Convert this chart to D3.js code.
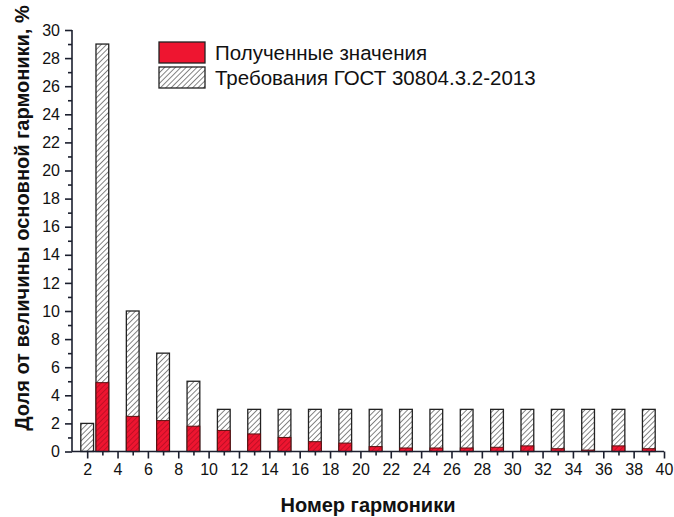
<!DOCTYPE html>
<html>
<head>
<meta charset="utf-8">
<script src="https://cdn.jsdelivr.net/npm/d3@7"></script>
<style>
  html, body { margin: 0; padding: 0; background: #fff; }
  svg { display: block; font-family: "Liberation Sans", Arial, sans-serif; }
</style>
</head>
<body>
<svg id="chart" width="674" height="517"></svg>
<script>
// Harmonic numbers shown as bars
const harmonics = [2, 3, 5, 7, 9, 11, 13, 15, 17, 19, 21, 23, 25, 27, 29, 31, 33, 35, 37, 39];
// Limits per GOST 30804.3.2-2013, % of fundamental
const gostLimits = [2, 29, 10, 7, 5, 3, 3, 3, 3, 3, 3, 3, 3, 3, 3, 3, 3, 3, 3, 3];
// Measured harmonic content, % of fundamental
const measured = [0, 4.9, 2.5, 2.2, 1.8, 1.5, 1.25, 1.0, 0.7, 0.6, 0.35, 0.25, 0.25, 0.25, 0.3, 0.4, 0.2, 0.1, 0.4, 0.2];
// Axis ticks
const xMajorTicks = d3.range(2, 41, 2);
const xMinorTicks = d3.range(3, 40, 2);
const yMajorTicks = d3.range(0, 31, 2);
const yMinorTicks = d3.range(1, 30, 2);
const legendLabels = ["Полученные значения", "Требования ГОСТ 30804.3.2-2013"];
const xTitle = "Номер гармоники";
const yTitle = "Доля от величины основной гармоники, %";

const svg = d3.select("#chart");
const plot = { left: 72, right: 664, top: 30, bottom: 451.5 };

const x = d3.scaleLinear().domain([1, 40]).range([plot.left, plot.right]);
const y = d3.scaleLinear().domain([0, 30]).range([plot.bottom, plot.top]);
const halfBar = 0.42;

// Hatch patterns
const defs = svg.append("defs");
function hatch(id, bg, line) {
  const p = defs.append("pattern")
    .attr("id", id)
    .attr("patternUnits", "userSpaceOnUse")
    .attr("width", 3.8).attr("height", 3.8)
    .attr("patternTransform", "rotate(45)");
  p.append("rect").attr("width", 3.8).attr("height", 3.8).attr("fill", bg);
  p.append("line").attr("x1", 0).attr("y1", 0).attr("x2", 0).attr("y2", 3.8)
    .attr("stroke", line).attr("stroke-width", 1.2);
}
hatch("hatchGray", "#fff", "#333");
hatch("hatchRed", "#ee1530", "#a30a1e");

const rows = harmonics.map((h, i) => ({ h, limit: gostLimits[i], value: measured[i] }));

// Limit bars
svg.append("g").selectAll("rect").data(rows).join("rect")
  .attr("x", d => x(d.h - halfBar))
  .attr("width", d => x(d.h + halfBar) - x(d.h - halfBar))
  .attr("y", d => y(d.limit))
  .attr("height", d => y(0) - y(d.limit))
  .attr("fill", "url(#hatchGray)")
  .attr("stroke", "#222").attr("stroke-width", 1.3);

// Measured bars
svg.append("g").selectAll("rect").data(rows.filter(d => d.value > 0)).join("rect")
  .attr("x", d => x(d.h - halfBar))
  .attr("width", d => x(d.h + halfBar) - x(d.h - halfBar))
  .attr("y", d => y(d.value))
  .attr("height", d => y(0) - y(d.value))
  .attr("fill", "url(#hatchRed)")
  .attr("stroke", "#5a1010").attr("stroke-width", 1);

// Y axis
const yAxis = svg.append("g").attr("transform", `translate(${plot.left},0)`)
  .call(d3.axisLeft(y).tickValues(yMajorTicks).tickSize(7).tickPadding(5).tickFormat(d3.format("d")));
svg.append("g").attr("transform", `translate(${plot.left},0)`)
  .call(d3.axisLeft(y).tickValues(yMinorTicks).tickSize(4).tickFormat(""))
  .select(".domain").remove();

// X axis
const xAxis = svg.append("g").attr("transform", `translate(0,${plot.bottom})`)
  .call(d3.axisBottom(x).tickValues(xMajorTicks).tickSize(7).tickPadding(5).tickFormat(d3.format("d")));
svg.append("g").attr("transform", `translate(0,${plot.bottom})`)
  .call(d3.axisBottom(x).tickValues(xMinorTicks).tickSize(4).tickFormat(""))
  .select(".domain").remove();

yAxis.select(".domain").attr("d", `M0,${plot.top}V${plot.bottom}`);
xAxis.select(".domain").attr("d", `M${plot.left},0H${plot.right}`);
svg.selectAll(".domain, .tick line").attr("stroke", "#1b1f2e").attr("stroke-width", 1.6);
svg.selectAll(".tick text").attr("font-size", 16).attr("fill", "#111")
  .attr("font-family", "'Liberation Sans', Arial, sans-serif");

// Axis titles
svg.append("text")
  .attr("x", (plot.left + plot.right) / 2).attr("y", 512)
  .attr("text-anchor", "middle")
  .attr("font-size", 20).attr("font-weight", "bold").attr("fill", "#111")
  .text(xTitle);
svg.append("text")
  .attr("transform", `translate(29,218) rotate(-90)`)
  .attr("text-anchor", "middle")
  .attr("font-size", 20).attr("font-weight", "bold").attr("fill", "#111")
  .text(yTitle);

// Legend
const legend = svg.append("g").attr("transform", "translate(159,42)");
const fills = ["#ee1530", "url(#hatchGray)"];
legendLabels.forEach((label, i) => {
  const g = legend.append("g").attr("transform", `translate(0,${i * 25})`);
  g.append("rect").attr("width", 46).attr("height", 21)
    .attr("fill", fills[i]).attr("stroke", "#222").attr("stroke-width", 1.3);
  g.append("text").attr("x", 56).attr("y", 11).attr("dy", "0.35em")
    .attr("font-size", 20.5).attr("fill", "#111").text(label);
});
</script>
</body>
</html>
